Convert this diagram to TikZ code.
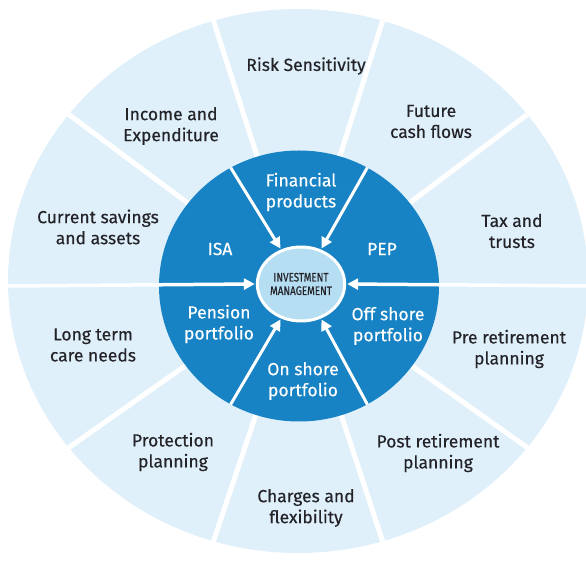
\documentclass[tikz,border=0pt]{standalone}
\usepackage{fontspec}
\setmainfont{Fira Sans}[FakeBold=0.35]
\newfontfamily\condfont{Fira Sans}[FakeStretch=0.8,FakeBold=0.5]
\usetikzlibrary{arrows.meta,shapes.geometric}
\definecolor{outerblue}{RGB}{223,240,250}
\definecolor{darkblue}{RGB}{24,131,196}
\definecolor{coreblue}{RGB}{182,222,243}
\definecolor{txt}{RGB}{35,35,40}
\begin{document}
\begin{tikzpicture}[x=1pt,y=1pt,
  outerlabel/.style={align=center,font=\fontsize{17.5}{21}\selectfont,text=txt,inner sep=0},
  innerlabel/.style={align=center,font=\fontsize{17.5}{21}\selectfont,text=white,inner sep=0},
  sep/.style={white,line width=5pt},
  arr/.style={white,line width=3pt,-{Triangle[length=11pt,width=11pt]},shorten >=1pt},
]
\useasboundingbox (0,0) rectangle (586,562);
\clip (0,0) rectangle (586,562);
\coordinate (c) at (299,276);
% outer ring
\node[ellipse,fill=outerblue,minimum width=580pt,minimum height=544pt,inner sep=0] (ring) at (298,281) {};
\foreach \a in {36,72,108,144,216,252,288,324}{
  \draw[sep] (c) -- (ring.\a);
}
% dark inner disc
\node[ellipse,fill=darkblue,minimum width=280pt,minimum height=271pt,inner sep=0] (dk) at (c) {};
% core
\node[ellipse,fill=coreblue,draw=white,line width=3pt,minimum width=79pt,minimum height=74pt,inner sep=0,
  align=center,text=txt,font=\condfont\fontsize{12.3}{13.5}\selectfont] (im) at (301,278) {INVESTMENT\\MANAGEMENT};
% arrows
\foreach \a in {60,120,240,300}{
  \draw[arr] (dk.\a) -- (im.\a);
}
\coordinate (lw) at (c -| ring.west);
\coordinate (le) at (590,276);
\draw[arr,line width=3.5pt] (lw) -- (im.180);
\draw[arr,line width=3.5pt] (le) -- (im.0);
% outer labels
\node[outerlabel] (l1) at (306,496) {Risk Sensitivity};
\node[outerlabel] (l2) at (431,440.5) {Future\\cash flows};
\node[outerlabel] (l3) at (512,331) {Tax and\\trusts};
\node[outerlabel] (l4) at (509,213) {Pre retirement\\planning};
\node[outerlabel] (l5) at (438,109) {Post retirement\\planning};
\node[outerlabel] (l6) at (306,54) {Charges and\\flexibility};
\node[outerlabel] (l7) at (173,110) {Protection\\planning};
\node[outerlabel] (l8) at (93,217) {Long term\\care needs};
\node[outerlabel] (l9) at (98,335) {Current savings\\and assets};
\node[outerlabel] (l10) at (171,436) {Income and\\Expenditure};
% inner labels
\node[innerlabel] (i1) at (301,370) {Financial\\products};
\node[innerlabel] (i2) at (382,313) {PEP};
\node[innerlabel] (i3) at (388,236) {Off shore\\portfolio};
\node[innerlabel] (i4) at (303,181) {On shore\\portfolio};
\node[innerlabel] (i5) at (219,238) {Pension\\portfolio};
\node[innerlabel] (i6) at (220,313) {ISA};
\end{tikzpicture}
\end{document}
